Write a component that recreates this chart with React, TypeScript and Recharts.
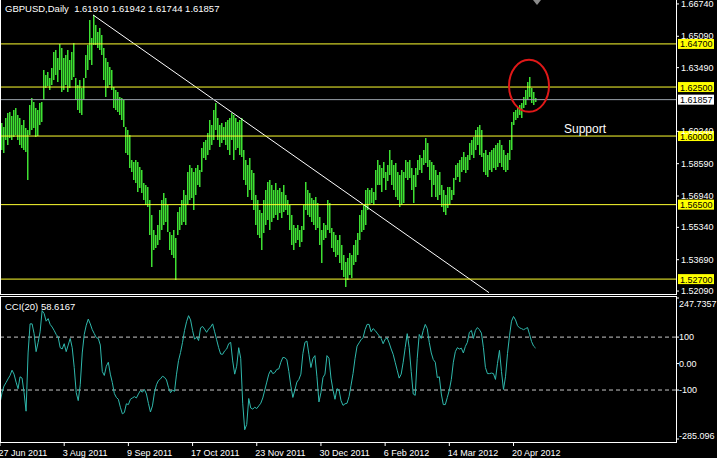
import React from "react";
import { ComposedChart, Bar, Line, XAxis, YAxis, ReferenceLine, ReferenceDot, Cell } from "recharts";

const FONT = '"Liberation Sans", Arial, sans-serif';
const BAR_GREEN = "#3ee032";

const highs = [
  1.6066, 1.6045, 1.6092, 1.6118, 1.6123, 1.6102, 1.6133, 1.6143, 1.6107, 1.6092,
  1.6056, 1.6082, 1.6041, 1.6031, 1.6158, 1.6194, 1.6174, 1.6143, 1.6133, 1.6169,
  1.6174, 1.6337, 1.6312, 1.6327, 1.6296, 1.6348, 1.6429, 1.6440, 1.6399, 1.6470,
  1.6450, 1.6399, 1.6414, 1.6440, 1.6388, 1.6429, 1.6475, 1.6296, 1.6261, 1.6286,
  1.6245, 1.6296, 1.6414, 1.6465, 1.6593, 1.6501, 1.6618, 1.6567, 1.6532, 1.6552,
  1.6516, 1.6450, 1.6399, 1.6378, 1.6353, 1.6337, 1.6251, 1.6235, 1.6225, 1.6200,
  1.6194, 1.6184, 1.6046, 1.6031, 1.6005, 1.5877, 1.5867, 1.5877, 1.5867, 1.5842,
  1.5826, 1.5760, 1.5750, 1.5740, 1.5673, 1.5596, 1.5520, 1.5494, 1.5545, 1.5622,
  1.5673, 1.5709, 1.5683, 1.5647, 1.5509, 1.5494, 1.5520, 1.5479, 1.5612, 1.5637,
  1.5673, 1.5724, 1.5699, 1.5816, 1.5852, 1.5837, 1.5816, 1.5837, 1.5852, 1.5826,
  1.5939, 1.5970, 1.5980, 1.6015, 1.6082, 1.6056, 1.6133, 1.6169, 1.6092, 1.6056,
  1.6066, 1.6046, 1.6072, 1.6082, 1.6092, 1.6118, 1.6107, 1.6092, 1.6072, 1.6082,
  1.6092, 1.5929, 1.5877, 1.5852, 1.5888, 1.5826, 1.5811, 1.5699, 1.5673, 1.5622,
  1.5607, 1.5673, 1.5724, 1.5765, 1.5775, 1.5750, 1.5724, 1.5760, 1.5724, 1.5734,
  1.5714, 1.5750, 1.5699, 1.5673, 1.5647, 1.5596, 1.5545, 1.5530, 1.5545, 1.5520,
  1.5540, 1.5647, 1.5765, 1.5724, 1.5709, 1.5683, 1.5673, 1.5689, 1.5658, 1.5586,
  1.5520, 1.5555, 1.5545, 1.5673, 1.5658, 1.5530, 1.5509, 1.5494, 1.5469, 1.5494,
  1.5443, 1.5392, 1.5356, 1.5377, 1.5402, 1.5392, 1.5443, 1.5469, 1.5504, 1.5596,
  1.5622, 1.5647, 1.5724, 1.5734, 1.5724, 1.5734, 1.5714, 1.5826, 1.5877, 1.5852,
  1.5837, 1.5867, 1.5816, 1.5852, 1.5929, 1.5877, 1.5852, 1.5862, 1.5816, 1.5801,
  1.5826, 1.5816, 1.5877, 1.5867, 1.5877, 1.5837, 1.5801, 1.5837, 1.5877, 1.5903,
  1.5888, 1.5929, 1.5990, 1.5964, 1.5877, 1.5867, 1.5852, 1.5826, 1.5801, 1.5816,
  1.5750, 1.5724, 1.5699, 1.5740, 1.5740, 1.5724, 1.5785, 1.5852, 1.5862, 1.5877,
  1.5893, 1.5918, 1.5893, 1.5903, 1.5964, 1.5980, 1.5995, 1.6031, 1.6046, 1.6056,
  1.6031, 1.5913, 1.5929, 1.5903, 1.5918, 1.5929, 1.5939, 1.5954, 1.5964, 1.5980,
  1.5954, 1.5929, 1.5903, 1.5913, 1.5980, 1.6072, 1.6123, 1.6133, 1.6143, 1.6158,
  1.6169, 1.6200, 1.6235, 1.6276, 1.6302, 1.6245, 1.6225, 1.61942,
];

const lows = [
  1.5929, 1.5913, 1.5980, 1.5954, 1.5990, 1.5980, 1.5995, 1.6005, 1.5980, 1.5954,
  1.5939, 1.5929, 1.5918, 1.5775, 1.6005, 1.6031, 1.6041, 1.5995, 1.6000, 1.6056,
  1.6072, 1.6184, 1.6245, 1.6256, 1.6235, 1.6261, 1.6286, 1.6312, 1.6276, 1.6337,
  1.6225, 1.6235, 1.6261, 1.6225, 1.6245, 1.6286, 1.6302, 1.6184, 1.6133, 1.6118,
  1.6107, 1.6184, 1.6296, 1.6337, 1.6388, 1.6363, 1.6465, 1.6465, 1.6450, 1.6440,
  1.6414, 1.6286, 1.6200, 1.6245, 1.6261, 1.6235, 1.6143, 1.6133, 1.6123, 1.6107,
  1.6082, 1.6046, 1.5913, 1.5903, 1.5837, 1.5816, 1.5775, 1.5760, 1.5714, 1.5734,
  1.5709, 1.5673, 1.5647, 1.5637, 1.5494, 1.5331, 1.5418, 1.5428, 1.5443, 1.5469,
  1.5520, 1.5545, 1.5560, 1.5509, 1.5418, 1.5392, 1.5377, 1.5264, 1.5494, 1.5520,
  1.5545, 1.5560, 1.5545, 1.5647, 1.5673, 1.5683, 1.5622, 1.5699, 1.5750, 1.5740,
  1.5816, 1.5888, 1.5877, 1.5903, 1.5929, 1.5954, 1.5980, 1.6031, 1.5980, 1.5944,
  1.5964, 1.5980, 1.5954, 1.5929, 1.5903, 1.5980, 1.5877, 1.5929, 1.5939, 1.5903,
  1.5893, 1.5775, 1.5750, 1.5689, 1.5724, 1.5673, 1.5622, 1.5545, 1.5494, 1.5479,
  1.5418, 1.5504, 1.5545, 1.5571, 1.5520, 1.5560, 1.5581, 1.5596, 1.5571, 1.5607,
  1.5581, 1.5612, 1.5622, 1.5596, 1.5520, 1.5443, 1.5418, 1.5453, 1.5469, 1.5433,
  1.5458, 1.5520, 1.5622, 1.5596, 1.5586, 1.5560, 1.5545, 1.5520, 1.5530, 1.5443,
  1.5351, 1.5469, 1.5479, 1.5520, 1.5504, 1.5428, 1.5407, 1.5382, 1.5392, 1.5351,
  1.5315, 1.5280, 1.5229, 1.5264, 1.5290, 1.5275, 1.5341, 1.5356, 1.5392, 1.5469,
  1.5509, 1.5520, 1.5545, 1.5622, 1.5647, 1.5658, 1.5647, 1.5673, 1.5750, 1.5750,
  1.5714, 1.5785, 1.5724, 1.5770, 1.5801, 1.5750, 1.5724, 1.5689, 1.5673, 1.5637,
  1.5647, 1.5658, 1.5785, 1.5775, 1.5785, 1.5724, 1.5658, 1.5740, 1.5801, 1.5826,
  1.5811, 1.5852, 1.5862, 1.5842, 1.5775, 1.5689, 1.5750, 1.5689, 1.5673, 1.5699,
  1.5637, 1.5612, 1.5596, 1.5632, 1.5647, 1.5673, 1.5699, 1.5775, 1.5790, 1.5765,
  1.5816, 1.5826, 1.5811, 1.5826, 1.5877, 1.5903, 1.5888, 1.5929, 1.5954, 1.5903,
  1.5893, 1.5816, 1.5801, 1.5790, 1.5826, 1.5816, 1.5837, 1.5826, 1.5842, 1.5862,
  1.5842, 1.5826, 1.5816, 1.5826, 1.5877, 1.5929, 1.6056, 1.6082, 1.6092, 1.6107,
  1.6092, 1.6143, 1.6158, 1.6184, 1.6200, 1.6169, 1.6158, 1.61744,
];

const cciValues = [
  -150, -110, -85, -72, -58, -45, -25, -40, -70, -95,
  -50, -55, -110, -180, 40, 150, 150, 113, 45, 80,
  120, 200, 189, 160, 170, 148, 138, 125, 110, 100,
  60, 55, 75, 45, 70, 95, 60, -15, -110, -140,
  -80, 40, 110, 145, 168, 150, 128, 113, 98, 95,
  70, -30, -45, -10, 5, -40, -72, -113, -128, -135,
  -165, -190, -185, -152, -155, -135, -130, -125, -130, -115,
  -102, -108, -98, -115, -151, -183, -160, -110, -80, -64,
  -58, -48, -52, -62, -90, -110, -100, -105, -40, 11,
  42, 80, 125, 158, 181, 165, 125, 92, 100, 87,
  135, 140, 130, 118, 130, 138, 150, 120, 90, 60,
  36, 35, 48, 55, 75, 80, 10, -40, -10, 60,
  20, -150, -250, -230, -132, -168, -172, -165, -170, -160,
  -150, -130, -100, -70, -40, -25, -38, -34, -22, -20,
  5, 23, 22, 15, -30, -85, -128, -100, -70, -60,
  -40, 38, 80, 85, 35, -15, 19, 30, -50, -145,
  -110, -53, -40, 30, 20, -55, -100, -135, -95, -100,
  -140, -158, -152, -150, -125, -82, -38, 20, 66, 78,
  90, 98, 128, 148, 148, 120, 132, 125, 115, 105,
  95, 75, 92, 97, 78, 55, 35, 5, -25, -55,
  -40, 5, 60, 113, 60, -30, -115, -120, 20, 110,
  95, 125, 148, 132, 80, 40, 15, 5, -53, -50,
  -115, -155, -155, -128, -100, -60, 5, 45, 60, 55,
  58, 40, 65, 80, 118, 125, 95, 125, 136, 128,
  115, 60, -15, -38, -38, -36, -38, -60, 0, 50,
  -30, -98, -50, 38, 105, 160, 178, 165, 143, 135,
  132, 128, 132, 136, 110, 83, 66, 58.6167,
];

const dateLabels = [
  "27 Jun 2011", "3 Aug 2011", "9 Sep 2011", "17 Oct 2011", "23 Nov 2011",
  "30 Dec 2011", "6 Feb 2012", "14 Mar 2012", "20 Apr 2012",
];
const dateTickIndex = [0, 32, 64, 96, 128, 160, 192, 224, 256];

const levelLines = [1.647, 1.625, 1.6, 1.565, 1.527];
const levelLabels = ["1.64700", "1.62500", "1.60000", "1.56500", "1.52700"];
const bidPrice = 1.61857;
const bidLabel = "1.61857";
const priceTicks = [1.6674, 1.6509, 1.6349, 1.6024, 1.5859, 1.5694, 1.5534, 1.5369, 1.5209];
const priceDomain = [1.5194, 1.6689];

const cciTicks = [247.7357, 100, 0, -100, -285.096];
const cciTickLabels = ["247.7357", "100", "0.00", "-100", "-285.096"];
const cciDomain = [-296.4, 247.7357];

const headerText = "GBPUSD,Daily  1.61910 1.61942 1.61744 1.61857";
const cciHeaderText = "CCI(20) 58.6167";

const trendStart = { i: 46, price: 1.6618 };
const trendEnd = { i: 244, price: 1.5201 };
const circleCenter = { i: 264, price: 1.6256 };
const supportAnchor = { i: 282, price: 1.6015 };
const shiftMarker = { i: 268, price: 1.6689 };

const TOTAL_SLOTS = 338;

const rows = Array.from({ length: TOTAL_SLOTS }, (_, i) => ({
  i,
  range: i < highs.length ? [lows[i], highs[i]] : undefined,
  cci: i < cciValues.length ? cciValues[i] : null,
}));

const BarShape = (p: any) => {
  const { x, y, width, height } = p;
  if (![x, y, width, height].every((v) => Number.isFinite(v))) return null;
  const top = Math.min(y, y + height);
  const h = Math.max(Math.abs(height), 1);
  return (
    <path
      d={`M${Math.floor(x + width / 2)},${Math.round(top)}h1.5v${Math.max(Math.round(h), 1)}h-1.5Z`}
      fill={BAR_GREEN}
      fillOpacity={1}
      stroke="none"
    />
  );
};

const PriceTick = (p: any) => {
  const { x, y, payload } = p;
  return (
    <text x={x} y={y} dy={3} textAnchor="start" fill="#ffffff" fontSize={9} fontFamily={FONT}>
      {Number(payload.value).toFixed(5)}
    </text>
  );
};

const CciTick = (p: any) => {
  const { x, y, payload, index } = p;
  const k = cciTicks.indexOf(payload.value);
  const shift = k === 0 ? 6 : k === cciTicks.length - 1 ? -3 : 0;
  return (
    <text x={x - 2} y={y + shift} dy={3} textAnchor="start" fill="#ffffff" fontSize={9} fontFamily={FONT}>
      {cciTickLabels[k >= 0 ? k : index]}
    </text>
  );
};

const DateTick = (p: any) => {
  const { x, y, payload } = p;
  const k = dateTickIndex.indexOf(payload.value);
  return (
    <text x={x - 1.5} y={y} dy={8} textAnchor="start" fill="#ffffff" fontSize={9} fontFamily={FONT}>
      {k >= 0 ? dateLabels[k] : ""}
    </text>
  );
};

const makeBoxLabel = (text: string, bg: string) => (props: any) => {
  const vb = props.viewBox || {};
  const bx = vb.x + vb.width + 2;
  const by = vb.y;
  return (
    <g>
      <rect x={bx} y={by - 5} width={36} height={10} fill={bg} />
      <text x={bx + 2} y={by} dy={3.5} textAnchor="start" fill="#000000" fontSize={9} fontFamily={FONT}>
        {text}
      </text>
    </g>
  );
};

const EllipseShape = (p: any) => (
  <ellipse cx={p.cx} cy={p.cy} rx={20} ry={26} fill="none" stroke="#e01818" strokeWidth={2} />
);

const SupportShape = (p: any) => (
  <text x={p.cx - 1} y={p.cy} textAnchor="start" fill="#ffffff" fontSize={12} fontFamily={FONT}>
    Support
  </text>
);

const ShiftShape = (p: any) => (
  <polygon
    points={`${p.cx - 4},${p.cy - 1} ${p.cx + 4},${p.cy - 1} ${p.cx},${p.cy + 4}`}
    fill="#8a8a8a"
  />
);

export default function App() {
  return (
    <div
      style={{
        position: "absolute",
        left: 0,
        top: 0,
        width: 717,
        height: 458,
        background: "#000000",
        overflow: "hidden",
        fontFamily: FONT,
      }}
    >
      <div style={{ position: "absolute", left: 0, top: 0 }}>
        <ComposedChart
          width={717}
          height={295}
          data={rows}
          margin={{ top: 1, right: 0, bottom: 1, left: 0 }}
          barCategoryGap={0}
          barGap={0}
        >
          <XAxis dataKey="i" type="category" hide />
          <YAxis
            orientation="right"
            width={41}
            type="number"
            domain={priceDomain}
            allowDataOverflow
            ticks={priceTicks}
            interval={0}
            axisLine={false}
            tickLine={{ stroke: "#ffffff" }}
            tickSize={3}
            tick={PriceTick}
          />
          <Bar dataKey="range" fill={BAR_GREEN} shape={BarShape} isAnimationActive={false}>
            {rows.map((r) => (
              <Cell key={r.i} fill={BAR_GREEN} />
            ))}
          </Bar>
          <ReferenceLine
            segment={[
              { x: trendStart.i, y: trendStart.price },
              { x: trendEnd.i, y: trendEnd.price },
            ]}
            stroke="#ffffff"
            strokeWidth={1}
          />
          <ReferenceLine y={bidPrice} stroke="#9aa2ab" label={makeBoxLabel(bidLabel, "#ffffff")} />
          {levelLines.map((v, k) => (
            <ReferenceLine key={v} y={v} stroke="#ffff30" label={makeBoxLabel(levelLabels[k], "#ffff00")} />
          ))}
          <ReferenceDot x={circleCenter.i} y={circleCenter.price} shape={EllipseShape} />
          <ReferenceDot x={supportAnchor.i} y={supportAnchor.price} shape={SupportShape} />
          <ReferenceDot x={shiftMarker.i} y={shiftMarker.price} shape={ShiftShape} ifOverflow="visible" />
        </ComposedChart>
      </div>
      <div style={{ position: "absolute", left: 0, top: 295 }}>
        <ComposedChart width={717} height={163} data={rows} margin={{ top: 3, right: 0, bottom: 0, left: 0 }}>
          <XAxis
            dataKey="i"
            type="category"
            height={16}
            ticks={dateTickIndex}
            interval={0}
            axisLine={false}
            tickLine={{ stroke: "#ffffff" }}
            tickSize={4}
            tick={DateTick}
          />
          <YAxis
            orientation="right"
            width={41}
            type="number"
            domain={cciDomain}
            allowDataOverflow
            ticks={cciTicks}
            interval={0}
            axisLine={false}
            tickLine={{ stroke: "#ffffff" }}
            tickSize={3}
            tick={CciTick}
          />
          <ReferenceLine y={100} stroke="#c8c8c8" strokeDasharray="4 3" />
          <ReferenceLine y={-100} stroke="#c8c8c8" strokeDasharray="4 3" />
          <Line
            dataKey="cci"
            type="linear"
            stroke="#2fb8ac"
            strokeWidth={1}
            dot={false}
            activeDot={false}
            connectNulls={false}
            isAnimationActive={false}
          />
        </ComposedChart>
      </div>
      <div
        style={{
          position: "absolute",
          left: 0,
          top: -1,
          width: 677,
          height: 296,
          boxSizing: "border-box",
          borderLeft: "1px solid #ffffff",
          borderRight: "1px solid #ffffff",
          borderBottom: "1px solid #ffffff",
          pointerEvents: "none",
        }}
      />
      <div
        style={{
          position: "absolute",
          left: 0,
          top: 296,
          width: 677,
          height: 147,
          boxSizing: "border-box",
          border: "1px solid #ffffff",
          pointerEvents: "none",
        }}
      />
      <svg
        width={717}
        height={458}
        style={{ position: "absolute", left: 0, top: 0, pointerEvents: "none" }}
      >
        <text x={5} y={12} fill="#ffffff" fontSize={9.5} fontFamily={FONT} xmlSpace="preserve" style={{ whiteSpace: "pre" }}>
          {headerText}
        </text>
        <text x={5} y={310} fill="#ffffff" fontSize={9.5} fontFamily={FONT}>
          {cciHeaderText}
        </text>
      </svg>
    </div>
  );
}
